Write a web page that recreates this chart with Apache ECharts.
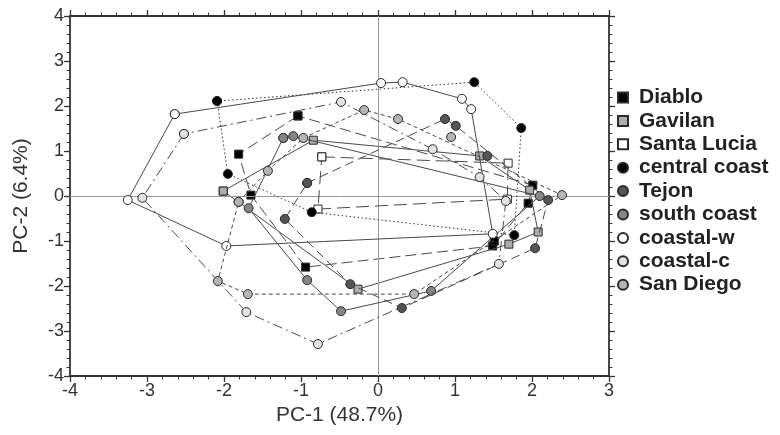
<!DOCTYPE html>
<html>
<head>
<meta charset="utf-8">
<script src="https://cdn.jsdelivr.net/npm/echarts@6/dist/echarts.min.js"></script>
<style>
html,body{margin:0;padding:0;background:#fff;}
#chart{width:780px;height:435px;}
</style>
</head>
<body>
<div id="chart"></div>
<script>
// ---- Data (PC-1, PC-2) : convex-hull vertices + interior points ----
const xTicks = [-4, -3, -2, -1, 0, 1, 2, 3];
const yTicks = [-4, -3, -2, -1, 0, 1, 2, 3, 4];

const groupNames = ['Diablo','Gavilan','Santa Lucia','central coast','Tejon','south coast','coastal-w','coastal-c','San Diego'];

const diabloHull = [[-1.04,1.78],[-1.81,0.93],[-1.65,0.02],[-0.94,-1.58],[1.49,-1.11],[1.95,-0.16],[2.01,0.24]];
const diabloInner = [[1.51,-1.00]];

const gavilanHull = [[-2.01,0.11],[-0.84,1.24],[1.32,0.89],[1.97,0.13],[2.08,-0.80],[1.70,-1.07],[-0.26,-2.07]];
const gavilanInner = [];

const santaLuciaHull = [[-0.73,0.87],[1.69,0.73],[1.68,-0.07],[-0.78,-0.29]];
const santaLuciaInner = [];

const centralCoastHull = [[-2.09,2.11],[-1.95,0.49],[-0.86,-0.36],[1.77,-0.87],[1.86,1.51],[1.25,2.53]];
const centralCoastInner = [];

const tejonHull = [[-0.92,0.29],[0.87,1.71],[1.01,1.56],[2.21,-0.09],[2.04,-1.16],[0.31,-2.49],[-0.36,-1.96],[-1.21,-0.51]];
const tejonInner = [[1.42,0.89]];

const southCoastHull = [[-1.23,1.29],[-1.10,1.33],[2.10,0.00],[0.69,-2.11],[-0.48,-2.56],[-0.92,-1.87],[-1.68,-0.27]];
const southCoastInner = [];

const coastalWHull = [[-2.64,1.82],[-3.25,-0.09],[-1.97,-1.11],[1.49,-0.84],[1.21,1.93],[1.09,2.16],[0.32,2.53],[0.04,2.51]];
const coastalWInner = [];

const coastalCHull = [[-2.52,1.38],[-3.06,-0.04],[-1.71,-2.58],[-0.78,-3.29],[1.57,-1.51],[1.66,-0.11],[1.32,0.42],[0.71,1.04],[-0.48,2.09]];
const coastalCInner = [];

const sanDiegoHull = [[-1.81,-0.13],[-1.43,0.56],[-0.97,1.29],[-0.18,1.91],[0.26,1.71],[2.39,0.02],[0.47,-2.18],[-1.69,-2.18],[-2.08,-1.89]];
const sanDiegoInner = [[0.95,1.31]];

// ---- Styles ----
const styles = {
  'Diablo':        {symbol:'rect',   fill:'#000000', dash:[11,5]},
  'Gavilan':       {symbol:'rect',   fill:'#adadad', dash:'solid'},
  'Santa Lucia':   {symbol:'rect',   fill:'#ffffff', dash:[13,6]},
  'central coast': {symbol:'circle', fill:'#000000', dash:[1.5,2.5]},
  'Tejon':         {symbol:'circle', fill:'#555555', dash:[9,5]},
  'south coast':   {symbol:'circle', fill:'#858585', dash:'solid'},
  'coastal-w':     {symbol:'circle', fill:'#ffffff', dash:'solid'},
  'coastal-c':     {symbol:'circle', fill:'#e2e2e2', dash:[10,4,2,4]},
  'San Diego':     {symbol:'circle', fill:'#b4b4b4', dash:[4,3]}
};
const groupData = {
  'Diablo':[diabloHull,diabloInner],
  'Gavilan':[gavilanHull,gavilanInner],
  'Santa Lucia':[santaLuciaHull,santaLuciaInner],
  'central coast':[centralCoastHull,centralCoastInner],
  'Tejon':[tejonHull,tejonInner],
  'south coast':[southCoastHull,southCoastInner],
  'coastal-w':[coastalWHull,coastalWInner],
  'coastal-c':[coastalCHull,coastalCInner],
  'San Diego':[sanDiegoHull,sanDiegoInner]
};

const series = [];
// zero reference lines
series.push({
  type:'line', data:[], silent:true, z:1,
  markLine:{
    silent:true, symbol:['none','none'], label:{show:false},
    lineStyle:{color:'#9a9a9a', width:1, type:'solid'},
    data:[{xAxis:0},{yAxis:0}]
  }
});
groupNames.forEach(function(name, i){
  const st = styles[name];
  const hull = groupData[name][0];
  const inner = groupData[name][1];
  const closed = hull.concat([hull[0]]);
  const itemStyle = {color:st.fill, borderColor:'#2a2a2a', borderWidth:1, opacity:1};
  const size = st.symbol==='rect' ? 8 : 9;
  series.push({
    name:name, type:'line', data:closed, z:3+i,
    symbol:st.symbol, symbolSize:size, showAllSymbol:true,
    lineStyle:{color: name==='central coast' ? '#333' : '#4a4a4a', width:1, type:st.dash},
    itemStyle:itemStyle, emphasis:{disabled:true}, animation:false
  });
  series.push({
    name:name, type:'scatter', data:inner, z:3+i,
    symbol:st.symbol, symbolSize:size,
    itemStyle:itemStyle, emphasis:{disabled:true}, animation:false
  });
});

const axisFont = '"Liberation Sans Narrow", "Liberation Sans", Arial, sans-serif';
const axisLineStyle = {color:'#333', width:1.8};

function xAx(pos, showLabel){
  return {
    type:'value', position:pos, min:xTicks[0], max:xTicks[xTicks.length-1], interval:1,
    axisLine:{show:true, onZero:false, lineStyle:axisLineStyle},
    axisTick:{show:true, inside:false, length:6, lineStyle:{color:'#333', width:1.3}},
    minorTick:{show:true, splitNumber:5, length:3.5, lineStyle:{color:'#333', width:1}},
    splitLine:{show:false}, minorSplitLine:{show:false},
    axisLabel:{show:showLabel, fontSize:18, color:'#333', fontFamily:axisFont, margin:6},
    name: showLabel ? 'PC-1 (48.7%)' : '', nameLocation:'middle', nameGap:28,
    nameTextStyle:{fontSize:21, color:'#333', fontFamily:axisFont}
  };
}
function yAx(pos, showLabel){
  return {
    type:'value', position:pos, min:yTicks[0], max:yTicks[yTicks.length-1], interval:1,
    axisLine:{show:true, onZero:false, lineStyle:axisLineStyle},
    axisTick:{show:true, inside:false, length:6, lineStyle:{color:'#333', width:1.3}},
    minorTick:{show:true, splitNumber:5, length:3.5, lineStyle:{color:'#333', width:1}},
    splitLine:{show:false}, minorSplitLine:{show:false},
    axisLabel:{show:showLabel, fontSize:18, color:'#333', fontFamily:axisFont, margin:6},
    name: showLabel ? 'PC-2 (6.4%)' : '', nameLocation:'middle', nameGap:38, nameRotate:90,
    nameTextStyle:{fontSize:21, color:'#333', fontFamily:axisFont}
  };
}

const option = {
  backgroundColor:'#fff',
  animation:false,
  grid:{left:70, top:16, width:539, height:360, containLabel:false},
  xAxis:[xAx('bottom', true), xAx('top', false)],
  yAxis:[yAx('left', true), yAx('right', false)],
  legend:{
    orient:'vertical', left:612, top:82,
    itemWidth:10, itemHeight:10, itemGap:2.4,
    selectedMode:false,
    textStyle:{fontSize:21, fontWeight:'bold', color:'#222', fontFamily:'"Liberation Sans", Arial, sans-serif', padding:[0,0,0,6]},
    data: groupNames.map(function(n){ return {name:n, icon: styles[n].symbol==='rect' ? 'rect' : 'circle'}; })
  },
  series:series
};

const chart = echarts.init(document.getElementById('chart'), null, {renderer:'canvas'});
chart.setOption(option);
</script>
</body>
</html>
